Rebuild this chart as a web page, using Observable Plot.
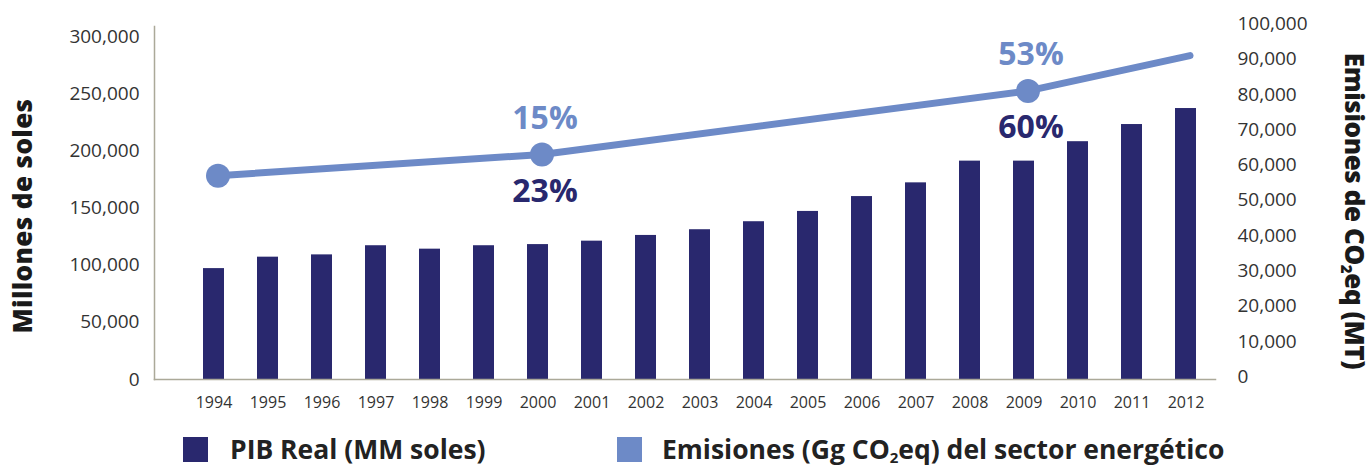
<!DOCTYPE html>
<html><head><meta charset="utf-8">
<script src="https://cdn.jsdelivr.net/npm/d3@7"></script>
<script src="https://cdn.jsdelivr.net/npm/@observablehq/plot@0.6"></script>
<style>
body{margin:0;background:#fff;font-family:"Open Sans",sans-serif;}
#wrap{position:relative;width:1370px;height:466px;overflow:hidden;background:#fff}
#wrap svg{position:absolute;left:0;top:0}
.item{position:absolute;top:433px;height:32px;display:flex;align-items:center;font-weight:700;font-size:26.5px;color:#222;white-space:nowrap;line-height:1}
.sw{width:25px;height:25px;display:inline-block;flex:none}
.sub{font-size:15px;vertical-align:-4px;line-height:0}
.title{position:absolute;left:0;top:0;white-space:nowrap;font-weight:800;font-size:26px;letter-spacing:0.4px;line-height:1;color:#1a1a1a}
</style></head>
<body><div id="wrap"></div>
<script>
const years = [1994,1995,1996,1997,1998,1999,2000,2001,2002,2003,2004,2005,2006,2007,2008,2009,2010,2011,2012];
const pib = [97000,107000,109000,117000,114000,117000,118000,121000,126000,131000,138000,147000,160000,172000,191000,191000,208000,223000,237000];
const emiYears = [1994,2000,2009,2012];
const emiValues = [57000,63000,81000,91000];
const markerYears = [1994,2000,2009];
const annoYears = [2000,2009];
const emiGrowth = ["15%","53%"];
const pibGrowth = ["23%","60%"];
const leftTicks = [0,50000,100000,150000,200000,250000,300000];
const rightTicks = [0,10000,20000,30000,40000,50000,60000,70000,80000,90000,100000];
const labels = {
  left:"Millones de soles",
  right:'Emisiones de CO<span class="sub">2</span>eq (MT)',
  pib:"PIB Real (MM soles)",
  emi:'Emisiones (Gg CO<span class="sub">2</span>eq) del sector energético'
};

const C_BAR = "#29286e", C_LINE = "#6d8ac7", C_AX = "#aba999", C_TXT = "#333";
const pibRows = years.map((y,i)=>({year:y, v:pib[i]}));
const emiRows = emiYears.map((y,i)=>({year:y, v:emiValues[i]}));
const annoRows = annoYears.map((y,i)=>({year:y, v:emiValues[emiYears.indexOf(y)], e:emiGrowth[i], p:pibGrowth[i]}));

const W=1370, H=420, ML=154, MR=155, MT=26, MB=41;
const xScale = {type:"band", domain:years, range:[184.4,1214.6], paddingInner:0.61, paddingOuter:0.305};
const font = {fontFamily:"Open Sans", background:"transparent", overflow:"visible"};

const p1 = Plot.plot({
  width:W, height:H, marginLeft:ML, marginRight:MR, marginTop:MT, marginBottom:MB,
  style:font,
  x:xScale,
  y:{domain:[0,300000], range:[379,36]},
  marks:[
    Plot.barY(pibRows, {x:"year", y:"v", fill:C_BAR}),
    Plot.frame({anchor:"left", stroke:C_AX, strokeWidth:1.5}),
    Plot.frame({anchor:"bottom", stroke:C_AX, strokeWidth:1.5}),
    Plot.axisY({ticks:leftTicks, tickSize:0, tickPadding:15, tickFormat:d3.format(","), fontSize:19, fill:C_TXT, label:null}),
    Plot.axisX({tickSize:0, tickPadding:17, fontSize:16, fill:C_TXT, label:null, tickFormat:d=>String(d)})
  ]
});

const p2 = Plot.plot({
  width:W, height:H, marginLeft:ML, marginRight:MR, marginTop:MT, marginBottom:MB,
  style:font,
  x:{...xScale, axis:null},
  y:{domain:[0,100000], range:[376.5,23.3]},
  marks:[
    Plot.line(emiRows, {x:"year", y:"v", stroke:C_LINE, strokeWidth:7, curve:"linear", strokeLinecap:"round", strokeLinejoin:"round", dx:4}),
    Plot.dot(emiRows.filter(d=>markerYears.includes(d.year)), {x:"year", y:"v", r:12, fill:C_LINE, dx:4}),
    Plot.text(annoRows, {x:"year", y:"v", text:"e", dx:7, dy:-36, fontSize:32, fontWeight:700, fill:C_LINE}),
    Plot.text(annoRows, {x:"year", y:"v", text:"p", dx:7, dy:37, fontSize:32, fontWeight:700, fill:C_BAR}),
    Plot.axisY({anchor:"right", ticks:rightTicks, tickSize:0, tickPadding:22, tickFormat:d3.format(","), fontSize:19, fill:C_TXT, label:null})
  ]
});

const wrap = document.getElementById("wrap");
wrap.appendChild(p1);
wrap.appendChild(p2);

function title(html, cx, cy, rot, ls){
  const d = document.createElement("div");
  d.className = "title"; d.innerHTML = html;
  if (ls != null) d.style.letterSpacing = ls+"px";
  wrap.appendChild(d);
  const w = d.offsetWidth, h = d.offsetHeight;
  d.style.left = (cx - w/2)+"px"; d.style.top = (cy - h/2)+"px";
  d.style.transform = `rotate(${rot}deg)`;
}
title(labels.left, 22, 216, -90);
title(labels.right, 1355, 211, 90, -0.4);

function item(left, gap, color, html){
  const d = document.createElement("div");
  d.className = "item"; d.style.left = left+"px";
  d.innerHTML = `<span class="sw" style="background:${color};margin-right:${gap}px"></span><span>${html}</span>`;
  wrap.appendChild(d);
}
item(183, 22, C_BAR, labels.pib);
item(617, 20, C_LINE, labels.emi);
</script></body></html>
